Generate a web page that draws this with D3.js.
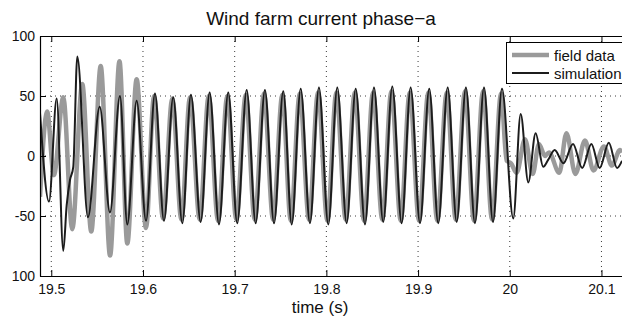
<!DOCTYPE html>
<html>
<head>
<meta charset="utf-8">
<title>Wind farm current phase-a</title>
<style>
    * {
        margin: 0;
        padding: 0;
    }

    body {
        background-color: #fff;
    }

    svg {
        display: block;
        font-family: "Liberation Sans", Arial, sans-serif;
    }
</style>
<script src="https://cdnjs.cloudflare.com/ajax/libs/d3/7.8.5/d3.min.js"></script>
</head>
<body>
<div id="root"></div>
<script>
var fieldTime = [19.4877, 19.4955, 19.5028, 19.5131, 19.5229, 19.5338, 19.5436, 19.5539, 19.5641, 19.5744,
    19.5829, 19.5931, 19.6033, 19.6121, 19.6219, 19.6320, 19.6419, 19.6513, 19.6619, 19.6717,
    19.6819, 19.6920, 19.7018, 19.7121, 19.7219, 19.7320, 19.7419, 19.7520, 19.7612, 19.7710,
    19.7811, 19.7909, 19.8011, 19.8109, 19.8211, 19.8310, 19.8411, 19.8509, 19.8610, 19.8709,
    19.8811, 19.8909, 19.9011, 19.9112, 19.9210, 19.9313, 19.9411, 19.9512, 19.9610, 19.9709,
    19.9807, 19.9905, 19.9966, 20.0013, 20.0075, 20.0166, 20.0250, 20.0318, 20.0384, 20.0428,
    20.0540, 20.0618, 20.0716, 20.0820, 20.0913, 20.1027, 20.1114, 20.1202, 20.1224];
var fieldValue = [-34, 37, -16, 49, -61, 60, -63, 75, -83, 79,
    -73, 64, -60, 50, -52, 48, -53, 49, -53, 50,
    -54, 50, -53, 51, -53, 52, -53, 51, -54, 52,
    -53, 53, -54, 53, -53, 53, -54, 53, -53, 54,
    -54, 53, -54, 53, -54, 53, -53, 54, -54, 54,
    -53, 52, -4, -6, -14, 14, -15, 10, 0, 3,
    -14, 19, -15, 13, -12, 8, -8, 5, 3];

var simTime = [19.4877, 19.4975, 19.5059, 19.5131, 19.5168, 19.5204, 19.5240, 19.5284, 19.5400, 19.5528,
    19.5640, 19.5749, 19.5829, 19.5931, 19.6033, 19.6131, 19.6229, 19.6330, 19.6429, 19.6523,
    19.6629, 19.6727, 19.6829, 19.6930, 19.7028, 19.7131, 19.7229, 19.7330, 19.7429, 19.7530,
    19.7622, 19.7720, 19.7821, 19.7919, 19.8021, 19.8119, 19.8221, 19.8320, 19.8421, 19.8519,
    19.8620, 19.8719, 19.8821, 19.8919, 19.9021, 19.9122, 19.9220, 19.9323, 19.9421, 19.9522,
    19.9620, 19.9719, 19.9817, 19.9915, 20.0038, 20.0119, 20.0202, 20.0282, 20.0365, 20.0420,
    20.0490, 20.0585, 20.0690, 20.0790, 20.0890, 20.0980, 20.1080, 20.1170, 20.1224];
var simValue = [36, -38, 48, -79, -41, -20, -9, 83, -51, 41,
    -47, 50, -57, 46, -54, 52, -54, 49, -56, 51,
    -55, 53, -57, 53, -56, 55, -56, 55, -56, 54,
    -57, 56, -56, 57, -57, 57, -56, 56, -57, 57,
    -55, 58, -56, 57, -56, 56, -56, 57, -55, 57,
    -56, 57, -55, 56, -52, 35, -22, 19, -9, -3,
    5, -6, 10, -10, 10, -10, 11, -10, -4];

var xTicks = [19.5, 19.6, 19.7, 19.8, 19.9, 20, 20.1];
var xTickLabels = ["19.5", "19.6", "19.7", "19.8", "19.9", "20", "20.1"];
var yTicks = [100, 50, 0, -50, -100];
var yTickLabels = ["100", "50", "0", "-50", "100"];
var yGrid = [50, 0, -50];

var seriesNames = ["field data", "simulation"];
var seriesColors = ["#9a9a9a", "#1c1c1c"];
var seriesWidths = [4.5, 2];

render("#root");

function render(root) {
    var width = 622;
    var height = 322;
    var left = 40, right = 622, top = 36, bottom = 276;

    var svg = d3.select(root).append("svg").attr("width", width).attr("height", height);

    var x = d3.scaleLinear().domain([19.4877, 20.1224]).range([left, right]);
    var y = d3.scaleLinear().domain([-100, 100]).range([bottom, top]);

    svg.append("defs").append("clipPath").attr("id", "plot-clip")
        .append("rect")
        .attr("x", left).attr("y", top)
        .attr("width", right - left).attr("height", bottom - top);

    // dotted grid
    var grid = svg.append("g").attr("class", "grid")
        .attr("stroke", "#3a3a3a")
        .attr("stroke-width", 1)
        .attr("stroke-dasharray", "1,4");

    grid.selectAll("line.vx").data(xTicks).enter()
        .append("line").attr("class", "vx")
        .attr("x1", function (d) { return x(d); })
        .attr("x2", function (d) { return x(d); })
        .attr("y1", top)
        .attr("y2", bottom);

    grid.selectAll("line.hy").data(yGrid).enter()
        .append("line").attr("class", "hy")
        .attr("x1", left)
        .attr("x2", right)
        .attr("y1", function (d) { return y(d); })
        .attr("y2", function (d) { return y(d); });

    // series
    var series = [
        d3.zip(fieldTime, fieldValue),
        d3.zip(simTime, simValue)
    ];

    var line = d3.line()
        .x(function (d) { return x(d[0]); })
        .y(function (d) { return y(d[1]); })
        .curve(d3.curveMonotoneX);

    svg.append("g").attr("clip-path", "url(#plot-clip)")
        .selectAll("path").data(series).enter()
        .append("path")
        .attr("d", line)
        .attr("fill", "none")
        .attr("stroke", function (d, i) { return seriesColors[i]; })
        .attr("stroke-width", function (d, i) { return seriesWidths[i]; })
        .attr("stroke-linejoin", "round");

    // axes, MATLAB style ticks pointing inward
    var xAxis = d3.axisBottom(x)
        .tickValues(xTicks)
        .tickFormat(function (d, i) { return xTickLabels[i]; })
        .tickSizeInner(-6)
        .tickSizeOuter(0)
        .tickPadding(8);

    var xAxisTop = d3.axisTop(x)
        .tickValues(xTicks)
        .tickFormat("")
        .tickSizeInner(-6)
        .tickSizeOuter(0);

    var yAxis = d3.axisLeft(y)
        .tickValues(yTicks)
        .tickFormat(function (d, i) { return yTickLabels[i]; })
        .tickSizeInner(-6)
        .tickSizeOuter(0)
        .tickPadding(5);

    var gx = svg.append("g").attr("transform", "translate(0," + bottom + ")").call(xAxis);
    var gxt = svg.append("g").attr("transform", "translate(0," + top + ")").call(xAxisTop);
    var gy = svg.append("g").attr("transform", "translate(" + left + ",0)").call(yAxis);

    [gx, gxt, gy].forEach(function (g) {
        g.selectAll("path.domain").attr("stroke", "#000").attr("stroke-width", 1.2);
        g.selectAll(".tick line").attr("stroke", "#000").attr("stroke-width", 1);
        g.selectAll("text")
            .attr("fill", "#111")
            .style("font-family", "'Liberation Sans', Arial, sans-serif")
            .style("font-size", "14px");
    });

    // title and axis label
    svg.append("text")
        .attr("x", 321).attr("y", 25)
        .attr("text-anchor", "middle")
        .attr("fill", "#111")
        .style("font-size", "19px")
        .text("Wind farm current phase\u2212a");

    svg.append("text")
        .attr("x", 320).attr("y", 313)
        .attr("text-anchor", "middle")
        .attr("fill", "#111")
        .style("font-size", "17px")
        .text("time (s)");

    // legend
    var legend = svg.append("g").attr("class", "legend");
    legend.append("rect")
        .attr("x", 506.5).attr("y", 42.5)
        .attr("width", 130).attr("height", 41)
        .attr("fill", "#fff")
        .attr("stroke", "#000")
        .attr("stroke-width", 1);

    var rows = legend.selectAll("g.row").data(seriesNames).enter()
        .append("g").attr("class", "row")
        .attr("transform", function (d, i) { return "translate(0," + (i === 0 ? 55 : 73) + ")"; });

    rows.append("line")
        .attr("x1", 512).attr("x2", 549)
        .attr("y1", 0).attr("y2", 0)
        .attr("stroke", function (d, i) { return seriesColors[i]; })
        .attr("stroke-width", function (d, i) { return seriesWidths[i]; });

    rows.append("text")
        .attr("x", 554).attr("y", 5.5)
        .attr("fill", "#111")
        .style("font-size", "15px")
        .text(function (d) { return d; });
}
</script>
</body>
</html>
